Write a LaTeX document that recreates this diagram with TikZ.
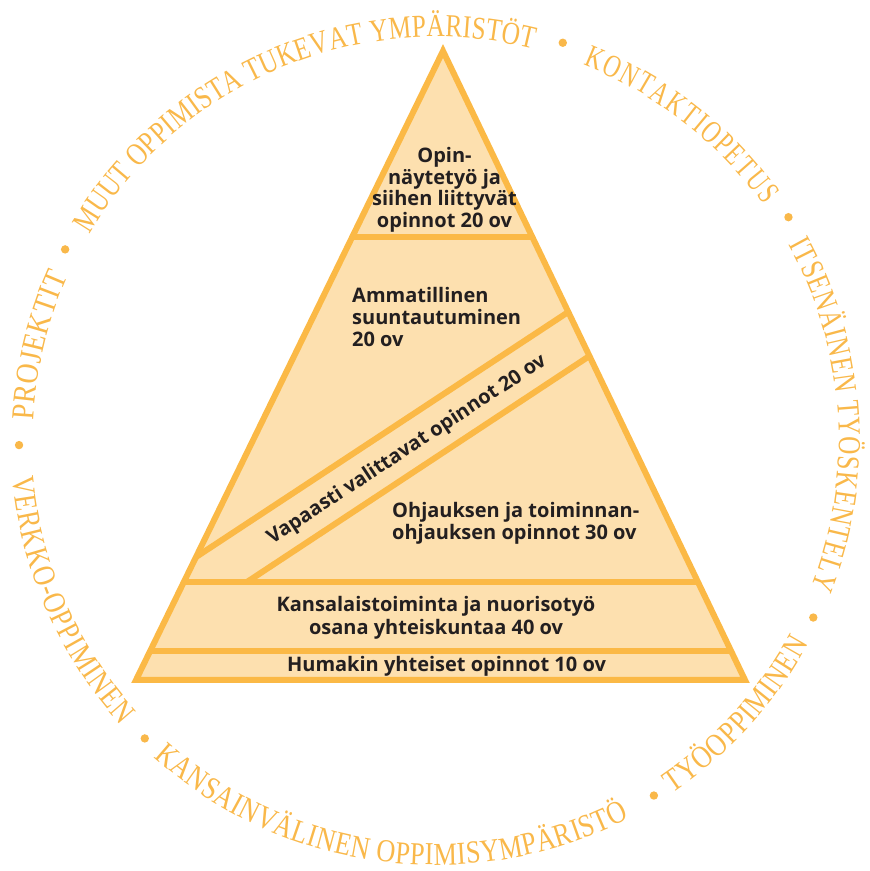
\documentclass[tikz,border=0pt]{standalone}
\usepackage{fontspec}
\usetikzlibrary{decorations.text,calc}
\newfontfamily\arcA[FakeStretch=0.73]{Liberation Serif}
\newfontfamily\arcB[FakeStretch=0.79]{Liberation Serif}
\newfontfamily\arcC[FakeStretch=0.82]{Liberation Serif}
\newfontfamily\arcD[FakeStretch=0.87]{Liberation Serif}
\newfontfamily\boxfont{Open Sans}
\definecolor{edge}{HTML}{FBB946}
\definecolor{fillc}{HTML}{FDE0AF}
\definecolor{circ}{HTML}{F9B84A}
\definecolor{ink}{HTML}{231F20}
\newcommand{\arcsz}{\fontsize{32}{32}\selectfont\color{circ}}
\begin{document}
\begin{tikzpicture}[x=1pt,y=1pt,
  tier/.style={draw=edge,line width=6pt},
  lbl/.style={text=ink,font=\boxfont\bfseries\fontsize{20}{22}\selectfont,inner sep=0pt},
  ringtext/.style 2 args={decorate,decoration={text along path,text={|#1\arcsz|#2},text align={fit to path}}},
  dot/.style={fill=circ}
]
\useasboundingbox (0,0) rectangle (870,871);
\coordinate (C) at (436,431);
\coordinate (A) at (443,820);
\coordinate (L) at (136,191);
\coordinate (R) at (745,191);
% pyramid fill
\fill[fillc] (A) -- (L) -- (R) -- cycle;
% inner lines
\coordinate (h1l) at ($(A)!0.2957!(L)$);
\coordinate (h1r) at ($(A)!0.2957!(R)$);
\coordinate (d1l) at ($(A)!0.8045!(L)$);
\coordinate (d1r) at ($(A)!0.4149!(R)$);
\coordinate (d2r) at ($(A)!0.4849!(R)$);
\coordinate (h3l) at ($(A)!0.8442!(L)$);
\coordinate (h3r) at ($(A)!0.8442!(R)$);
\coordinate (d2l) at (247,289);
\coordinate (h4l) at ($(A)!0.9539!(L)$);
\coordinate (h4r) at ($(A)!0.9539!(R)$);
\draw[tier] (h1l) -- (h1r);
\draw[tier] (d1l) -- (d1r);
\draw[tier] (d2l) -- (d2r);
\draw[tier] (h3l) -- (h3r);
\draw[tier] (h4l) -- (h4r);
\draw[tier,line join=miter] (A) -- (L) -- (R) -- cycle;
% labels
\node[lbl,anchor=base] (t1) at (444.5,708) {Opin-};
\node[lbl,anchor=base] (t2) at (444.5,686.5) {näytetyö ja};
\node[lbl,anchor=base] (t3) at (444.5,665) {siihen liittyvät};
\node[lbl,anchor=base] (t4) at (444.5,643.5) {opinnot 20 ov};
\node[lbl,anchor=base west] (a1) at (352,568) {Ammatillinen};
\node[lbl,anchor=base west] (a2) at (352,546) {suuntautuminen};
\node[lbl,anchor=base west] (a3) at (352,524) {20 ov};
\node[lbl,rotate=33.3] (v1) at (407,421) {Vapaasti valittavat opinnot 20 ov};
\node[lbl,anchor=base west] (o1) at (392,353) {Ohjauksen ja toiminnan-};
\node[lbl,anchor=base west] (o2) at (392,331) {ohjauksen opinnot 30 ov};
\node[lbl,anchor=base] (k1) at (436,259) {Kansalaistoiminta ja nuorisotyö};
\node[lbl,anchor=base] (k2) at (436,236) {osana yhteiskuntaa 40 ov};
\node[lbl,anchor=base] (h1) at (446.5,199) {Humakin yhteiset opinnot 10 ov};
% circular texts
\path[ringtext={\arcD}{PROJEKTIT}] ($(C)+(177.2:403)$) arc[start angle=177.2,end angle=155.9,radius=403];
\path[ringtext={\arcB}{MUUT OPPIMISTA TUKEVAT YMP{\"A}RIST{\"O}T}] ($(C)+(149.3:403)$) arc[start angle=149.3,end angle=76.0,radius=403];
\path[ringtext={\arcA}{KONTAKTIOPETUS}] ($(C)+(68.5:403)$) arc[start angle=68.5,end angle=35.6,radius=403];
\path[ringtext={\arcB}{ITSEN{\"A}INEN TY{\"O}SKENTELY}] ($(C)+(29.0:403)$) arc[start angle=29.0,end angle=-21.5,radius=403];
\path[ringtext={\arcC}{TY{\"O}OPPIMINEN}] ($(C)+(-56.2:425)$) arc[start angle=-56.2,end angle=-28.6,radius=425];
\path[ringtext={\arcC}{KANSAINV{\"A}LINEN OPPIMISYMP{\"A}RIST{\"O}}] ($(C)+(-131.7:425)$) arc[start angle=-131.7,end angle=-62.9,radius=425];
\path[ringtext={\arcC}{VERKKO-OPPIMINEN}] ($(C)+(185.0:425)$) arc[start angle=185.0,end angle=222.2,radius=425];
% bullets
\foreach \ang in {152.8,72.3,32.3,-25.2,-58.5,-134.3,180.7}
  \fill[dot] ($(C)+(\ang:417)$) circle[radius=4.2];
\end{tikzpicture}
\end{document}
